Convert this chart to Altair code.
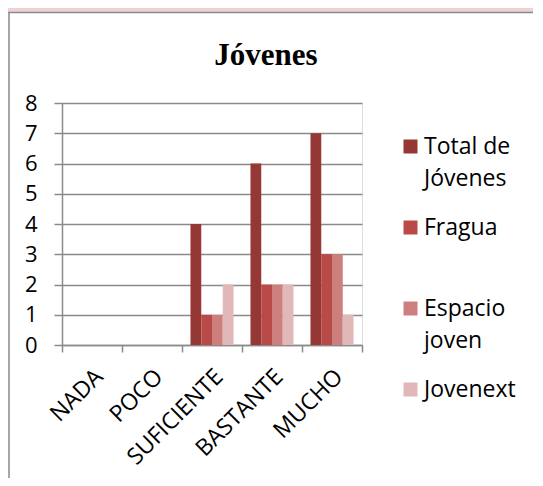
import altair as alt
import pandas as pd

categories = ["NADA", "POCO", "SUFICIENTE", "BASTANTE", "MUCHO"]
series = ["Total de Jóvenes", "Fragua", "Espacio joven", "Jovenext"]
total = [0, 0, 4, 6, 7]
fragua = [0, 0, 1, 2, 3]
espacio = [0, 0, 1, 2, 3]
jovenext = [0, 0, 2, 2, 1]
colors = ["#953735", "#b84a48", "#cd7f7e", "#e1b8b8"]

rows = []
for s, vals in zip(series, [total, fragua, espacio, jovenext]):
    for c, v in zip(categories, vals):
        rows.append({"cat": c, "series": s, "value": v})
df = pd.DataFrame(rows)

FONT = "Open Sans"
GRAY = "#8a8a8a"

label_expr = (
    "datum.label == 'Total de Jóvenes' ? ['Total de', 'Jóvenes'] : "
    "datum.label == 'Espacio joven' ? ['Espacio', 'joven'] : [datum.label, '']"
)

bars = alt.Chart(df).mark_bar().encode(
    x=alt.X(
        "cat:N",
        sort=categories,
        scale=alt.Scale(paddingInner=0, paddingOuter=0),
        axis=alt.Axis(
            title=None,
            labelAngle=-45,
            labelFont=FONT,
            labelFontSize=23,
            labelColor="black",
            tickBand="extent",
            tickSize=7,
            tickColor=GRAY,
            domainColor=GRAY,
            domainWidth=1.5,
            tickWidth=1.5,
            labelPadding=13,
            labelOffset=-1,
        ),
    ),
    xOffset=alt.XOffset("series:N", sort=series, scale=alt.Scale(paddingInner=0, paddingOuter=0.79)),
    y=alt.Y(
        "value:Q",
        scale=alt.Scale(domain=[0, 8], nice=False),
        axis=alt.Axis(
            title=None,
            values=[0, 1, 2, 3, 4, 5, 6, 7, 8],
            labelFont=FONT,
            labelFontSize=22,
            labelColor="black",
            tickSize=8,
            tickColor=GRAY,
            domainColor=GRAY,
            gridColor=GRAY,
            domainWidth=1.5,
            tickWidth=1.5,
            gridWidth=1.5,
            labelPadding=17,
            grid=True,
        ),
    ),
    color=alt.Color(
        "series:N",
        sort=series,
        scale=alt.Scale(domain=series, range=colors),
        legend=alt.Legend(
            title=None,
            orient="none",
            legendX=337,
            legendY=32,
            padding=0,
            symbolType="square",
            symbolSize=196,
            symbolStrokeWidth=0,
            labelFont=FONT,
            labelFontSize=23,
            labelColor="black",
            labelOffset=2,
            labelLimit=300,
            rowPadding=25,
            labelExpr=label_expr,
        ),
    ),
)

one = alt.Data(values=[{"k": 1}])
pink_top = alt.Chart(one).mark_rect(color="#f0d2d3").encode(
    x=alt.value(-54), x2=alt.value(480), y=alt.value(-95), y2=alt.value(-91)
)
top_line = alt.Chart(one).mark_rule(color=GRAY, strokeWidth=1.5).encode(
    x=alt.value(-54), x2=alt.value(480), y=alt.value(-90.5)
)
left_line = alt.Chart(one).mark_rule(color=GRAY, strokeWidth=1.5).encode(
    x=alt.value(-53), y=alt.value(-91), y2=alt.value(380)
)

chart = alt.layer(pink_top, top_line, left_line, bars).properties(
    width=300,
    height=242,
    autosize=alt.AutoSizeParams(type="none"),
    padding={"left": 54, "top": 95, "right": 171, "bottom": 133},
    background="white",
    title=alt.TitleParams(
        text="Jóvenes",
        font="Liberation Serif",
        fontSize=31,
        fontWeight="bold",
        color="black",
        anchor="middle",
        frame="group",
        dx=54,
        baseline="alphabetic",
        offset=0,
        dy=88,
    ),
).configure_view(stroke=None).configure(
    style={"guide-label": {"lineHeight": 32}}
)

chart.save("out.html", embed_options={"renderer": "svg", "actions": False})
